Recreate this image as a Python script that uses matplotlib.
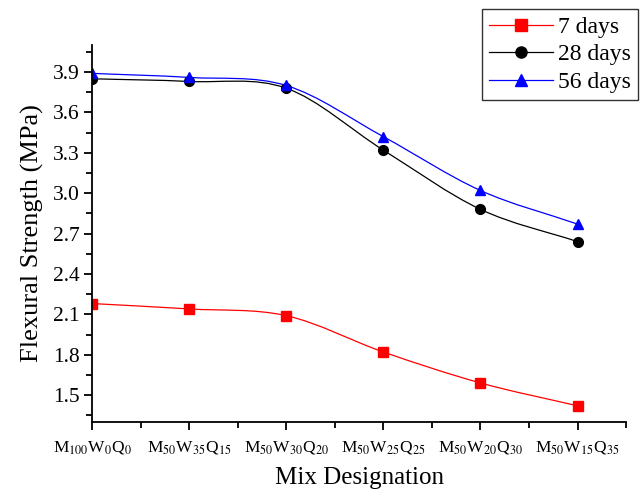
import matplotlib
matplotlib.use("Agg")
import matplotlib.pyplot as plt
import numpy as np
from matplotlib.path import Path
from matplotlib.patches import PathPatch
from matplotlib.ticker import MultipleLocator

plt.rcParams["font.family"] = "Liberation Serif"
plt.rcParams["mathtext.fontset"] = "stix"

mixes = [r"M$_{100}$W$_{0}$Q$_{0}$", r"M$_{50}$W$_{35}$Q$_{15}$", r"M$_{50}$W$_{30}$Q$_{20}$",
         r"M$_{50}$W$_{25}$Q$_{25}$", r"M$_{50}$W$_{20}$Q$_{30}$", r"M$_{50}$W$_{15}$Q$_{35}$"]
days7 = [2.18, 2.14, 2.09, 1.82, 1.59, 1.42]
days28 = [3.85, 3.83, 3.78, 3.32, 2.88, 2.64]
days56 = [3.89, 3.86, 3.80, 3.42, 3.02, 2.77]


def smooth_path(x, y):
    # catmull-rom style tangents, drawn as bezier segments through the points
    x = np.asarray(x, float)
    y = np.asarray(y, float)
    h = np.diff(x)
    d = np.diff(y) / h
    m = np.zeros_like(y)
    m[0], m[-1] = d[0], d[-1]
    for i in range(1, len(y) - 1):
        m[i] = (y[i + 1] - y[i - 1]) / (x[i + 1] - x[i - 1])
    verts = [(x[0], y[0])]
    codes = [Path.MOVETO]
    for i in range(len(x) - 1):
        verts += [(x[i] + h[i] / 3, y[i] + m[i] * h[i] / 3),
                  (x[i + 1] - h[i] / 3, y[i + 1] - m[i + 1] * h[i] / 3),
                  (x[i + 1], y[i + 1])]
        codes += [Path.CURVE4] * 3
    return Path(verts, codes)


fig = plt.figure(figsize=(6.42, 4.92), dpi=100)
ax = fig.add_axes([0.1433, 0.1423, 0.832, 0.766])

x = np.arange(len(mixes))
series = [(days7, "red", "s", "7 days"), (days28, "black", "o", "28 days"), (days56, "blue", "^", "56 days")]
for vals, col, mk, lab in series:
    ax.add_patch(PathPatch(smooth_path(x, vals), facecolor="none", edgecolor=col, lw=0.9))
    ax.plot(x, vals, linestyle="none", marker=mk, color=col, markersize=7)
    ax.plot([], [], color=col, lw=0.9, marker=mk, markersize=8, label=lab)

ax.set_xlim(0, 5.5)
ax.set_ylim(1.3, 4.1)
ax.set_xticks(x)
ax.set_xticklabels(mixes, fontsize=12.5)
ax.xaxis.set_minor_locator(MultipleLocator(0.5))
ax.yaxis.set_minor_locator(MultipleLocator(0.15))
ax.set_yticks(np.arange(1.5, 4.0, 0.3))
ax.set_yticklabels([f"{v:.1f}" for v in np.arange(1.5, 4.0, 0.3)], fontsize=15.5)
ax.tick_params(which="major", direction="out", length=6, width=1.3, pad=3)
ax.tick_params(which="minor", direction="out", length=4, width=1.3)
ax.tick_params(axis="x", pad=6)
ax.spines["top"].set_visible(False)
ax.spines["right"].set_visible(False)
ax.spines["left"].set_linewidth(1.3)
ax.spines["bottom"].set_linewidth(1.3)
ax.set_xlabel("Mix Designation", fontsize=18, labelpad=8)
ax.set_ylabel("Flexural Strength (MPa)", fontsize=19, labelpad=6)

leg = fig.legend(loc="upper right", bbox_to_anchor=(1.0, 0.988), fontsize=17, frameon=True,
                 fancybox=False, edgecolor="black", handlelength=2.7, handletextpad=0.25,
                 labelspacing=0.25, borderpad=0.3, borderaxespad=0.15)
leg.get_frame().set_linewidth(1.0)

fig.savefig("out.png", dpi=100)
